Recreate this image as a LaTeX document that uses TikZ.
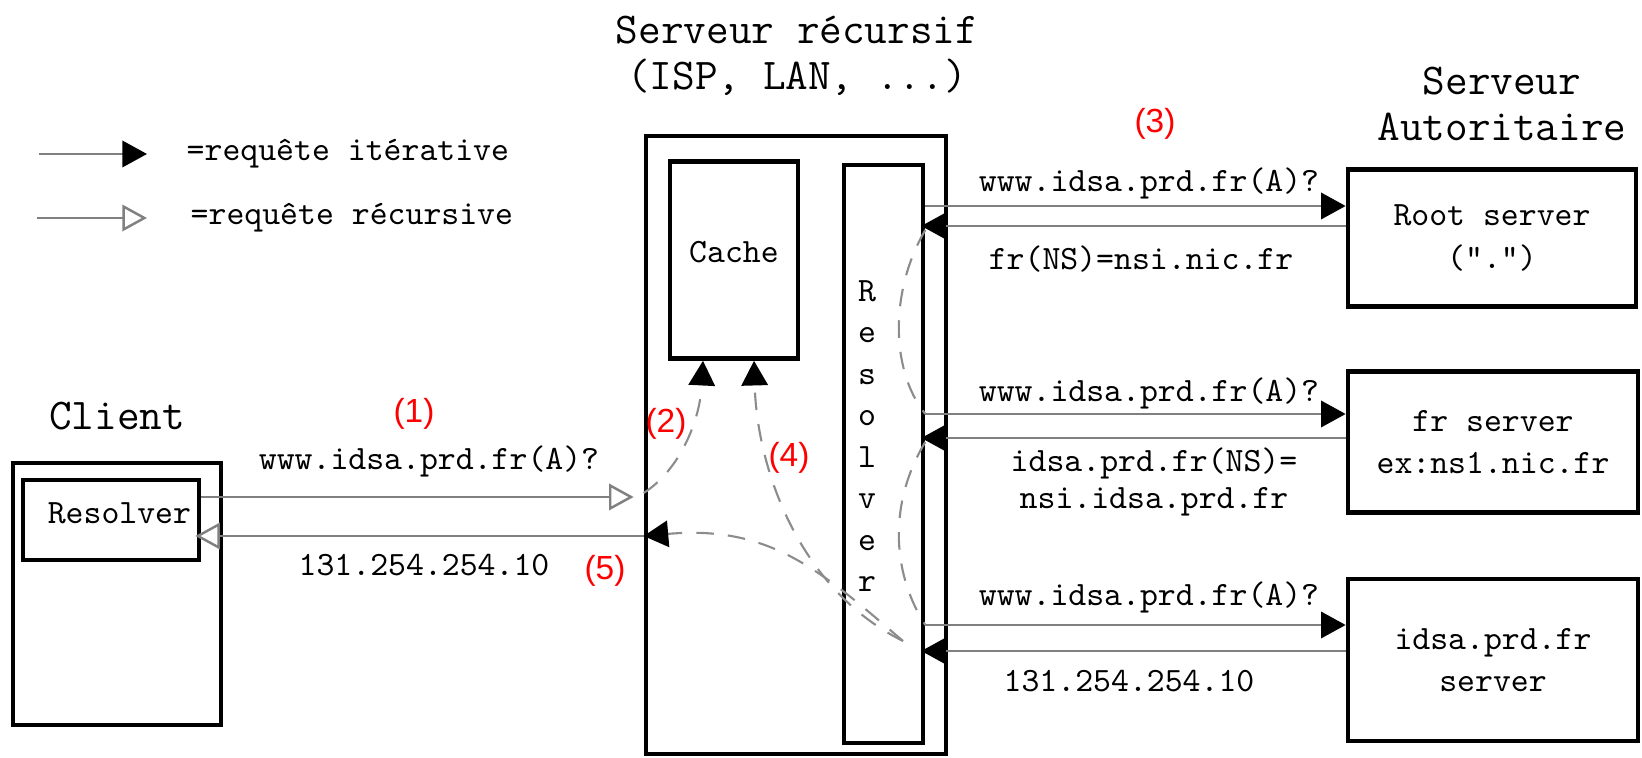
\documentclass[tikz,border=0pt]{standalone}
\usepackage{fontspec}
\newfontfamily\numfont{Liberation Sans}
\usetikzlibrary{arrows.meta}

\begin{document}
\begin{tikzpicture}[x=0.01cm, y=-0.01cm,
    every node/.style={font=\ttfamily\fontsize{9.7}{12}\selectfont, inner sep=0pt},
    title/.style={font=\ttfamily\fontsize{12.5}{13.2}\selectfont, align=center},
    box/.style={rectangle, draw, line width=1.3pt, align=center},
    num/.style={font=\numfont\fontsize{9.5}{11}\selectfont, text=red},
    iter/.style={draw=black!50, line width=0.7pt, -{Triangle[length=7pt, width=7.5pt, color=black]}},
    recu/.style={draw=black!50, line width=0.7pt, -{Triangle[open, length=7pt, width=7.5pt]}},
    flow/.style={draw=black!45, line width=0.6pt, dash pattern=on 5pt off 4pt},
    flowarrow/.style={flow, -{Triangle[length=7pt, width=7.5pt, color=black]}}]

  \useasboundingbox (0,0) rectangle (1642,758);

  \node[title] (ttlsrv) at (797,56) {Serveur récursif\\(ISP, LAN, ...)};
  \node[title] (ttlaut) at (1502,104) {Serveur\\Autoritaire};
  \node[title] (ttlcli) at (117,416) {Client};

  \node[box, minimum width=3cm, minimum height=6.18cm] (srv) at (796,445) {};
  \node[box, minimum width=1.28cm, minimum height=1.97cm, text depth=4.8pt] (cache) at (734,260) {Cache};
  \node[box, minimum width=0.79cm, minimum height=5.78cm] (res) at (883.5,454) {};
  \node[align=center, font=\ttfamily\fontsize{9.7}{11.8}\selectfont] (restxt) at (867,436) {R\\e\\s\\o\\l\\v\\e\\r};

  \node[box, minimum width=2.08cm, minimum height=2.62cm] (client) at (117,594) {};
  \node[box, minimum width=1.76cm, minimum height=0.8cm, text depth=4pt, text width=1.6cm, align=right] (cres) at (111,520) {Resolver};

  \node[box, minimum width=2.88cm, minimum height=1.37cm] (root)  at (1492,238) {Root server\\(".")};
  \node[box, minimum width=2.9cm, minimum height=1.41cm]  (frsrv) at (1493,442) {fr server\\ex:ns1.nic.fr};
  \node[box, minimum width=2.9cm, minimum height=1.62cm]  (idsa)  at (1493,660) {idsa.prd.fr\\server};

  \node[anchor=west] (lgiter) at (186,154) {=requête itérative};
  \node[anchor=west] (lgrecu) at (190,218) {=requête récursive};
  \coordinate (lgA) at (39,154);
  \coordinate (lgB) at (37,218);
  \draw[iter] (lgA) -- ([xshift=-0.39cm]lgiter.west);
  \draw[recu] (lgB) -- ([xshift=-0.43cm]lgrecu.west);

  \node[num] (n1) at (414,414) {(1)};
  \node[num] (n2) at (666,424) {(2)};
  \node[num] (n3) at (1155,124) {(3)};
  \node[num] (n4) at (789,458) {(4)};
  \node[num] (n5) at (605,571) {(5)};

  \node (q1) at (429,461) {www.idsa.prd.fr(A)?};
  \node (a1) at (424,565) {131.254.254.10};
  \node (q2) at (1149,183) {www.idsa.prd.fr(A)?};
  \node (a2) at (1141,259) {fr(NS)=nsi.nic.fr};
  \node (q3) at (1149,393) {www.idsa.prd.fr(A)?};
  \node[align=center, font=\ttfamily\fontsize{9.7}{10.5}\selectfont] (a3) at (1154,482) {idsa.prd.fr(NS)=\\nsi.idsa.prd.fr};
  \node (q4) at (1149,597) {www.idsa.prd.fr(A)?};
  \node (a4) at (1129,681) {131.254.254.10};

  \draw[recu, shorten >=0.1cm] (cres.east |- 0,497) -- (srv.west |- 0,497);
  \draw[recu, shorten >=-0.06cm] (srv.west |- 0,536) -- (cres.east |- 0,536);

  \draw[iter] (res.east |- 0,206) -- (root.west |- 0,206);
  \draw[iter, shorten >=-0.04cm] (root.west |- 0,226) -- (res.east |- 0,226);
  \draw[iter] (res.east |- 0,414) -- (frsrv.west |- 0,414);
  \draw[iter, shorten >=-0.04cm] (frsrv.west |- 0,438) -- (res.east |- 0,438);
  \draw[iter] (res.east |- 0,625) -- (idsa.west |- 0,625);
  \draw[iter, shorten >=-0.04cm] (idsa.west |- 0,651) -- (res.east |- 0,651);

  \draw[flow] (res.east |- 0,230) .. controls (890,290) and (890,370) .. (res.east |- 0,414);
  \draw[flow] (res.east |- 0,442) .. controls (890,500) and (890,570) .. (res.east |- 0,625);
  \coordinate (fork) at (903,641);
  \draw[flowarrow] (fork) .. controls (800,590) and (757,470) .. ([xshift=0.2cm]cache.south);
  \draw[flowarrow] (fork) .. controls (820,570) and (770,525) .. (srv.west |- 0,536);
  \draw[flowarrow] (srv.west |- 0,493) .. controls (680,470) and (700,420) .. ([xshift=-0.31cm]cache.south);
\end{tikzpicture}
\end{document}
